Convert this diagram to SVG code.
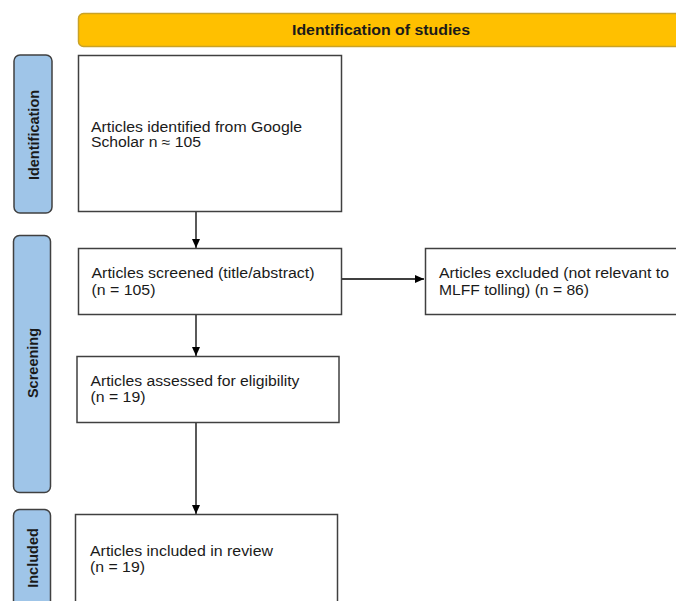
<svg xmlns="http://www.w3.org/2000/svg" width="676" height="601" viewBox="0 0 676 601">
<defs>
<style>
.box{fill:#ffffff;stroke:#404040;stroke-width:1.5}
.side{fill:#9fc5e8;stroke:#404040;stroke-width:1.5}
.hdr{fill:#ffc000;stroke:#c9a227;stroke-width:1.5}
.t{font-family:"Liberation Sans",Arial,sans-serif;font-size:14px;fill:#1a1a1a}
.b{font-family:"Liberation Sans",Arial,sans-serif;font-size:14.5px;font-weight:bold;fill:#1a1a1a}
.ln{fill:none;stroke:#000000;stroke-width:1.3}
</style>
<marker id="arr" viewBox="0 0 10 10" refX="10" refY="5" markerWidth="9" markerHeight="8" markerUnits="userSpaceOnUse" orient="auto" preserveAspectRatio="none">
<path d="M0,0 L10,5 L0,10 Z" fill="#000000"/>
</marker>
</defs>
<rect width="676" height="601" fill="#ffffff"/>
<g id="header">
<rect class="hdr" x="78.5" y="13.5" width="620" height="33" rx="5"/>
<text class="b" x="381" y="35" text-anchor="middle" font-size="14" textLength="178" lengthAdjust="spacingAndGlyphs">Identification of studies</text>
</g>
<g id="lane-identification">
<rect class="side" x="14" y="55" width="38" height="158" rx="6"/>
<text class="b" transform="translate(38.5,135) rotate(-90)" text-anchor="middle">Identification</text>
</g>
<g id="lane-screening">
<rect class="side" x="13.5" y="235.5" width="37" height="257" rx="6"/>
<text class="b" transform="translate(38,363) rotate(-90)" text-anchor="middle">Screening</text>
</g>
<g id="lane-included">
<rect class="side" x="13.5" y="509.5" width="37" height="110" rx="6"/>
<text class="b" transform="translate(38,558) rotate(-90)" text-anchor="middle">Included</text>
</g>
<g id="connectors">
<line class="ln" x1="196" y1="211" x2="196" y2="248" marker-end="url(#arr)"/>
<line class="ln" x1="196" y1="314" x2="196" y2="356" marker-end="url(#arr)"/>
<line class="ln" x1="196" y1="422" x2="196" y2="514" marker-end="url(#arr)"/>
<line class="ln" x1="341" y1="279" x2="424" y2="279" marker-end="url(#arr)"/>
</g>
<g id="identified">
<rect class="box" x="78.5" y="55.5" width="263" height="156"/>
<text class="t" x="91" y="131.5" textLength="211" lengthAdjust="spacingAndGlyphs">Articles identified from Google</text>
<text class="t" x="91" y="147" textLength="110" lengthAdjust="spacingAndGlyphs">Scholar n ≈ 105</text>
</g>
<g id="screened">
<rect class="box" x="78.5" y="248.5" width="263" height="66"/>
<text class="t" x="91.5" y="277.5" textLength="223" lengthAdjust="spacingAndGlyphs">Articles screened (title/abstract)</text>
<text class="t" x="91.5" y="294.5" textLength="64" lengthAdjust="spacingAndGlyphs">(n = 105)</text>
</g>
<g id="excluded">
<rect class="box" x="425.5" y="248.5" width="270" height="66"/>
<text class="t" x="439" y="277.5" textLength="230" lengthAdjust="spacingAndGlyphs">Articles excluded (not relevant to</text>
<text class="t" x="439" y="294.5" textLength="150" lengthAdjust="spacingAndGlyphs">MLFF tolling) (n = 86)</text>
</g>
<g id="eligibility">
<rect class="box" x="77" y="356.5" width="262" height="66"/>
<text class="t" x="90.5" y="385.5" textLength="209" lengthAdjust="spacingAndGlyphs">Articles assessed for eligibility</text>
<text class="t" x="90.5" y="401.5" textLength="55" lengthAdjust="spacingAndGlyphs">(n = 19)</text>
</g>
<g id="included">
<rect class="box" x="75.5" y="514.5" width="262" height="110"/>
<text class="t" x="90" y="556" textLength="183" lengthAdjust="spacingAndGlyphs">Articles included in review</text>
<text class="t" x="90" y="571.5" textLength="55" lengthAdjust="spacingAndGlyphs">(n = 19)</text>
</g>
</svg>
